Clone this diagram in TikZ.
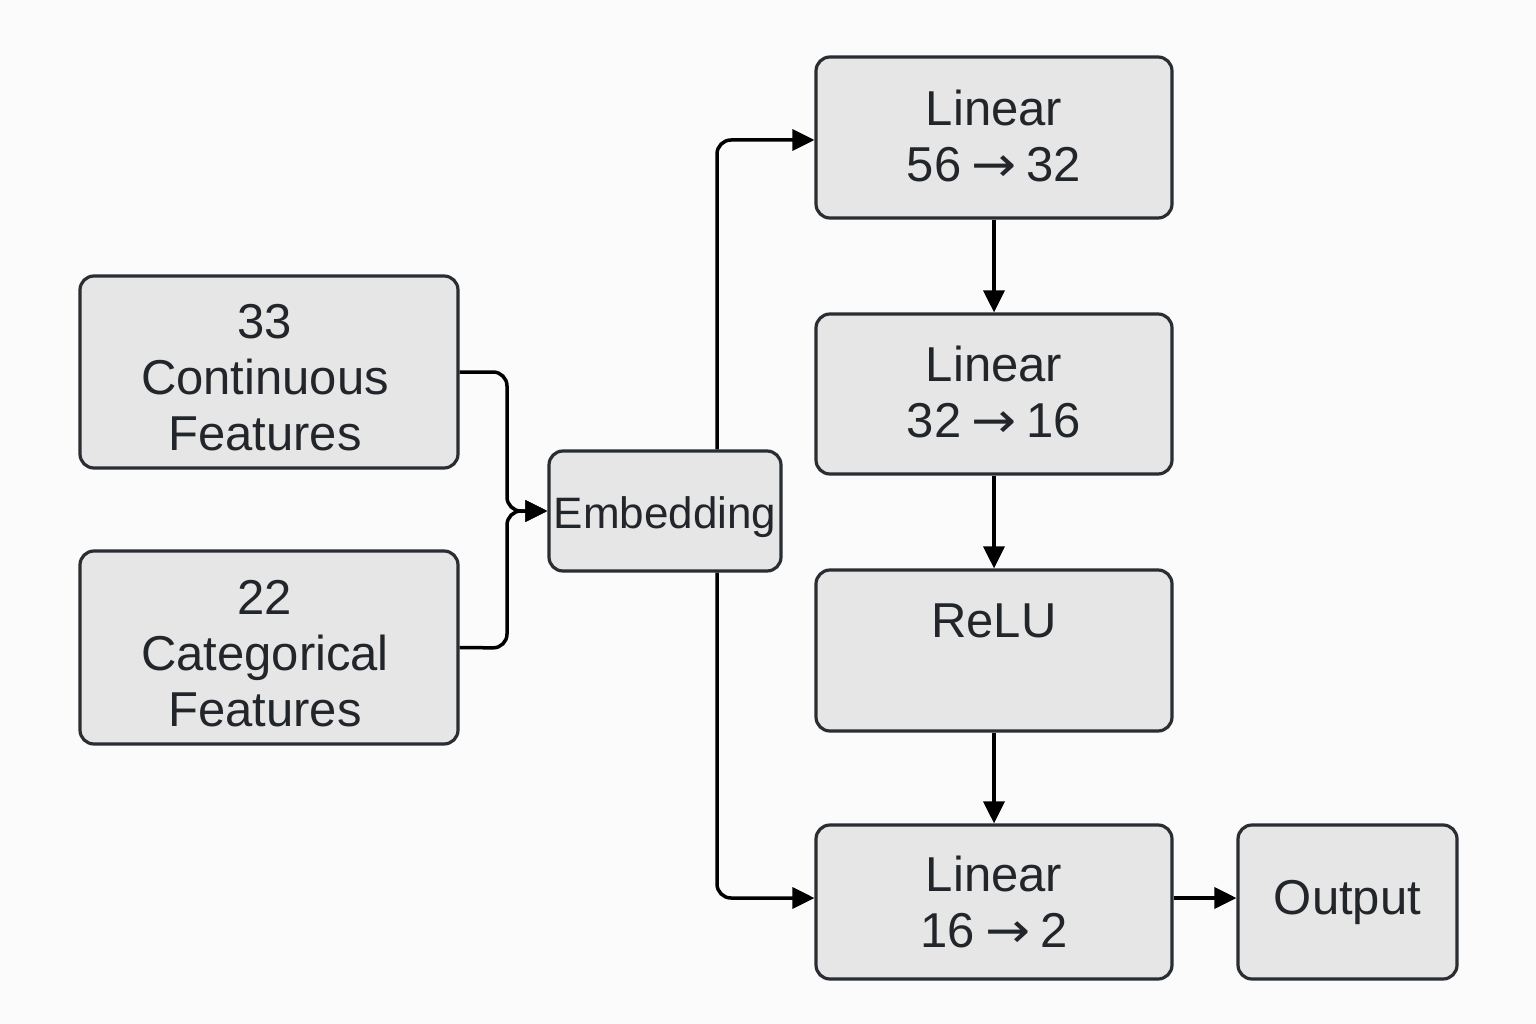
\documentclass[tikz,border=0pt]{standalone}
\usepackage{fontspec}
\usepackage{graphicx}
\setmainfont{Liberation Sans}
\newfontfamily\arrfont{DejaVu Sans}
\newcommand{\myarr}{\hspace{10pt}\scalebox{1.1}[1]{\arrfont →}\hspace{10pt}}
\usetikzlibrary{arrows.meta}
\definecolor{boxfill}{HTML}{E6E6E6}
\definecolor{boxline}{HTML}{2A2E33}
\definecolor{txt}{HTML}{22262B}
\definecolor{bg}{HTML}{FBFBFB}
\begin{document}
\begin{tikzpicture}[x=1pt,y=-1pt,
  blk/.style={draw=boxline, fill=boxfill, line width=3.2pt, rounded corners=14pt,
    text=txt, align=center, inner sep=0pt,
    font=\fontsize{49}{56}\selectfont},
  conn/.style={line width=3.5pt, draw=black, rounded corners=14pt,
    -{Triangle[length=22pt,width=21pt]}}]
\fill[bg] (0,0) rectangle (1536,1024);
\useasboundingbox (0,0) rectangle (1536,1024);

\node[blk, minimum width=378pt, minimum height=192pt] (cont) at (269,372) {};
\node[text=txt, align=center, inner sep=0pt, font=\fontsize{49}{56}\selectfont] (contt) at (265,378) {33\\Continuous\\Features};
\node[blk, minimum width=378pt, minimum height=193pt] (cat) at (269,647.5) {};
\node[text=txt, align=center, inner sep=0pt, font=\fontsize{49}{56}\selectfont] (catt) at (265,654) {22\\Categorical\\Features};
\node[blk, minimum width=232pt, minimum height=120pt] (emb) at (665,511) {};
\node[text=txt, inner sep=0pt, font=\fontsize{44}{50}\selectfont, anchor=base] (embt) at (665,528) {Embedding};
\node[blk, minimum width=356pt, minimum height=161pt] (lin1) at (994,137.5) {};
\node[text=txt, align=center, inner sep=0pt, font=\fontsize{49}{56}\selectfont] (lin1t) at (994,136) {Linear\\56\myarr32};
\node[blk, minimum width=356pt, minimum height=160pt] (lin2) at (994,394) {};
\node[text=txt, align=center, inner sep=0pt, font=\fontsize{49}{56}\selectfont] (lin2t) at (994,392) {Linear\\32\myarr16};
\node[blk, minimum width=356pt, minimum height=161pt] (relu) at (994,650.5) {};
\node[text=txt, font=\fontsize{49}{56}\selectfont, anchor=base, inner sep=0pt] (relut) at (994,637) {ReLU};
\node[blk, minimum width=356pt, minimum height=154pt] (lin3) at (994,902) {};
\node[text=txt, align=center, inner sep=0pt, font=\fontsize{49}{56}\selectfont] (lin3t) at (994,902) {Linear\\16\myarr2};
\node[blk, minimum width=219pt, minimum height=154pt] (out) at (1347.5,902) {Output};

\coordinate (mj) at (507,511);
\draw[conn] (cont.east) -- (507,372) -- (mj) -- (emb.west);
\draw[conn] (cat.east) -- (507,648) -- (mj) -- (emb.west);
\draw[conn] (emb.north -| 717,0) -- (717,140) -- (lin1.west |- 0,140);
\draw[conn] (emb.south -| 717,0) -- (717,898) -- (lin3.west |- 0,898);
\draw[conn] (lin1.south) -- (lin2.north);
\draw[conn] (lin2.south) -- (relu.north);
\draw[conn] (relu.south) -- (lin3.north);
\draw[conn] (lin3.east |- 0,898) -- (out.west |- 0,898);
\end{tikzpicture}
\end{document}
